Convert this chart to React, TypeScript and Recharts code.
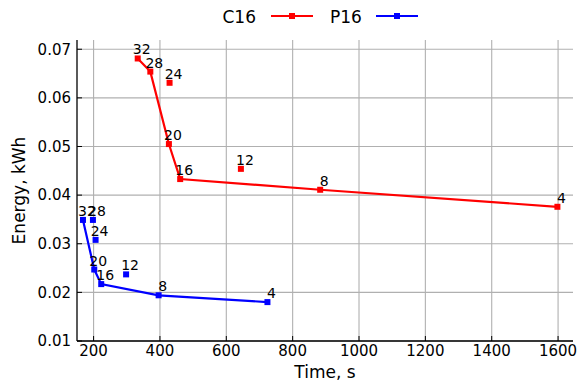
import React from 'react';
import { ScatterChart, Scatter, XAxis, YAxis, CartesianGrid } from 'recharts';

const labels = ['32', '28', '24', '20', '16', '12', '8', '4'];
const c16Time = [333, 371, 429, 427, 461, 644, 883, 1598];
const c16Energy = [0.0681, 0.0654, 0.0631, 0.0505, 0.0433, 0.0454, 0.0411, 0.0376];
const p16Time = [168, 198, 206, 202, 223, 298, 396, 724];
const p16Energy = [0.0349, 0.0349, 0.0308, 0.0247, 0.0217, 0.0237, 0.0194, 0.018];
const c16Front = ['32', '28', '20', '16', '8', '4'];
const p16Front = ['32', '20', '16', '8', '4'];
const xTicks = [200, 400, 600, 800, 1000, 1200, 1400, 1600];
const yTicks = [0.01, 0.02, 0.03, 0.04, 0.05, 0.06, 0.07];

const FONT = '"DejaVu Sans", sans-serif';
const RED = '#ff0000';
const BLUE = '#0000ff';

type Pt = { x: number; y: number; label: string };
const build = (t: number[], e: number[]): Pt[] => labels.map((l, i) => ({ x: t[i], y: e[i], label: l }));
const c16All = build(c16Time, c16Energy);
const p16All = build(p16Time, p16Energy);
const c16Line = c16Front.map((l) => c16All.find((p) => p.label === l)!);
const p16Line = p16Front.map((l) => p16All.find((p) => p.label === l)!);

const makeShape = (color: string) => (props: any) => {
  const { cx, cy, payload } = props;
  return (
    <g>
      <rect x={cx - 3} y={cy - 3} width={6} height={6} fill={color} />
      <text x={cx + 4} y={cy - 4} textAnchor="middle" fontSize={14} fontFamily={FONT} fill="#000">
        {payload.label}
      </text>
    </g>
  );
};
const noShape = () => <g />;

export default function App() {
  return (
    <div style={{ position: 'absolute', left: 0, top: 0, width: 580, height: 386, background: '#fff' }}>
      <ScatterChart width={580} height={386} margin={{ top: 40, right: 7, bottom: 0, left: 0 }}>
        <CartesianGrid stroke="#b0b0b0" strokeWidth={1.1} horizontalValues={yTicks} verticalValues={xTicks} />
        <XAxis
          type="number"
          dataKey="x"
          domain={[150, 1645]}
          ticks={xTicks}
          allowDataOverflow
          height={45}
          tickSize={-5}
          tickMargin={9}
          stroke="#000"
          axisLine={{ stroke: '#000', strokeWidth: 1.3 }}
          tickLine={{ stroke: '#000' }}
          tick={{ fill: '#000', fontSize: 15, fontFamily: FONT }}
          label={{ value: 'Time, s', position: 'insideBottom', offset: 8, fill: '#000', fontSize: 17, fontFamily: FONT }}
        />
        <XAxis
          xAxisId="top"
          orientation="top"
          type="number"
          domain={[150, 1645]}
          ticks={xTicks}
          allowDataOverflow
          height={0}
          tickSize={-5}
          tick={false}
          axisLine={{ stroke: '#000', strokeWidth: 1.3 }}
          tickLine={{ stroke: '#000' }}
        />
        <YAxis
          type="number"
          dataKey="y"
          domain={[0.01, 0.0719]}
          ticks={yTicks}
          allowDataOverflow
          width={77}
          tickSize={-5}
          tickMargin={11}
          axisLine={{ stroke: '#000', strokeWidth: 1.3 }}
          tickLine={{ stroke: '#000' }}
          tick={{ fill: '#000', fontSize: 15, fontFamily: FONT }}
          tickFormatter={(v: number) => v.toFixed(2)}
          label={{
            content: (p: any) => {
              const vb = p.viewBox || { y: 40, height: 301 };
              const cy = vb.y + vb.height / 2;
              return (
                <text
                  x={19}
                  y={cy}
                  transform={`rotate(-90 19 ${cy})`}
                  textAnchor="middle"
                  dominantBaseline="central"
                  fontSize={17}
                  fontFamily={FONT}
                  fill="#000"
                >
                  Energy, kWh
                </text>
              );
            },
          }}
        />
        <YAxis
          yAxisId="right"
          orientation="right"
          type="number"
          domain={[0.01, 0.0719]}
          ticks={yTicks}
          allowDataOverflow
          width={0}
          tickSize={-5}
          tick={false}
          axisLine={{ stroke: '#000', strokeWidth: 1.3 }}
          tickLine={{ stroke: '#000' }}
        />
        <Scatter data={c16Line} fill={RED} line={{ stroke: RED, strokeWidth: 2.2 }} shape={noShape} isAnimationActive={false} />
        <Scatter data={p16Line} fill={BLUE} line={{ stroke: BLUE, strokeWidth: 2.2 }} shape={noShape} isAnimationActive={false} />
        <Scatter data={c16All} fill={RED} shape={makeShape(RED)} isAnimationActive={false} />
        <Scatter data={p16All} fill={BLUE} shape={makeShape(BLUE)} isAnimationActive={false} />
      </ScatterChart>
      <svg width={580} height={36} style={{ position: 'absolute', left: 0, top: 0 }}>
        <text x={222.5} y={22.5} fontSize={17} fontFamily={FONT} fill="#000">C16</text>
        <line x1={271} x2={313} y1={16} y2={16} stroke={RED} strokeWidth={2.2} />
        <rect x={289} y={13} width={6} height={6} fill={RED} />
        <text x={330} y={22.5} fontSize={17} fontFamily={FONT} fill="#000">P16</text>
        <line x1={376} x2={418} y1={16} y2={16} stroke={BLUE} strokeWidth={2.2} />
        <rect x={394} y={13} width={6} height={6} fill={BLUE} />
      </svg>
    </div>
  );
}
